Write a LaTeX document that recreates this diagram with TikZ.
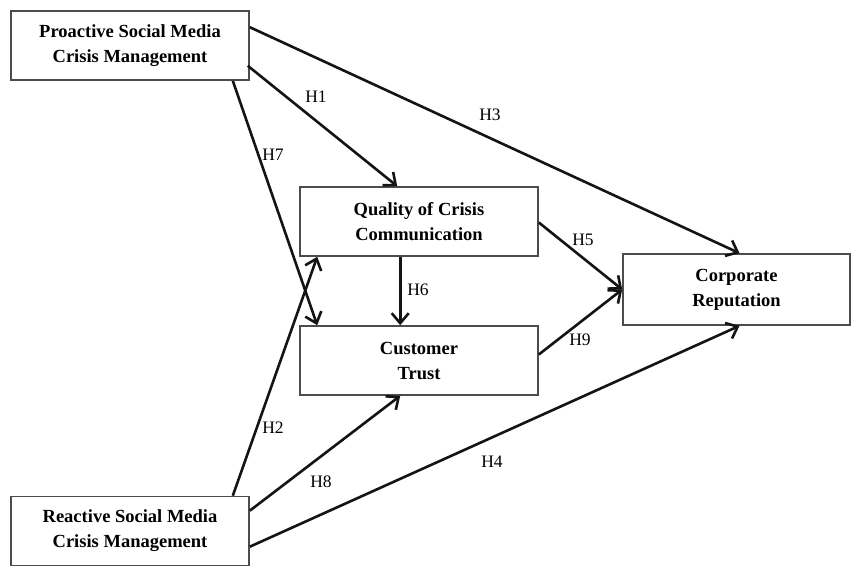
\documentclass[tikz,border=0pt]{standalone}
\usepackage{fontspec}
\setmainfont{Liberation Serif}
\usetikzlibrary{arrows.meta,calc}
\begin{document}
\begin{tikzpicture}[x=1pt,y=-1pt,
  box/.style={draw=black!70,line width=1.6pt,fill=white,minimum width=238pt,minimum height=69pt,
    align=center,inner sep=0pt,font=\fontsize{18.5}{25}\selectfont\bfseries},
  conn/.style={draw=black!92,line width=2.6pt,-{Straight Barb[length=10pt,width=17pt,line width=2.6pt]}},
  hlab/.style={font=\fontsize{17.5}{20}\selectfont,inner sep=0pt}]
\useasboundingbox[fill=white] (0,0) rectangle (851,565);
\node[box] (pro) at (130,45.5) {Proactive Social Media\\Crisis Management};
\node[box] (qual) at (419,221.5) {Quality of Crisis\\Communication};
\node[box] (trust) at (419,360.5) {Customer\\Trust};
\node[box,minimum width=227pt,minimum height=71pt] (corp) at (736.5,289.5) {Corporate\\Reputation};
\node[box] (rea) at (130,531) {Reactive Social Media\\Crisis Management};
% connectors
\draw[conn] ([yshift=-17pt]pro.north east) -- ([xshift=3pt]corp.north);
\draw[conn] ([xshift=-2pt,yshift=15pt]pro.south east) -- ([xshift=98pt]qual.north west);
\draw[conn] ([xshift=-17pt]pro.south east) -- ([xshift=18pt]trust.north west);
\draw[conn] ([xshift=101pt]qual.south west) -- ([xshift=101pt]trust.north west);
\draw[conn] ([yshift=-1pt]qual.east) -- (corp.west);
\draw[conn] ([yshift=6pt]trust.east) -- (corp.west);
\draw[conn] ([xshift=-17pt]rea.north east) -- ([xshift=18pt]qual.south west);
\draw[conn] ([yshift=-15pt]rea.north east) -- ([xshift=101pt]trust.south west);
\draw[conn] ([yshift=-51pt]rea.north east) -- ([xshift=3pt]corp.south);
% labels
\node[hlab] (h3) at (490,115) {H3};
\node[hlab] (h1) at (316,97) {H1};
\node[hlab] (h7) at (273,155) {H7};
\node[hlab] (h6) at (418,290) {H6};
\node[hlab] (h5) at (583,240) {H5};
\node[hlab] (h9) at (580,340) {H9};
\node[hlab] (h2) at (273,428) {H2};
\node[hlab] (h8) at (321,482) {H8};
\node[hlab] (h4) at (492,462) {H4};
\end{tikzpicture}
\end{document}
